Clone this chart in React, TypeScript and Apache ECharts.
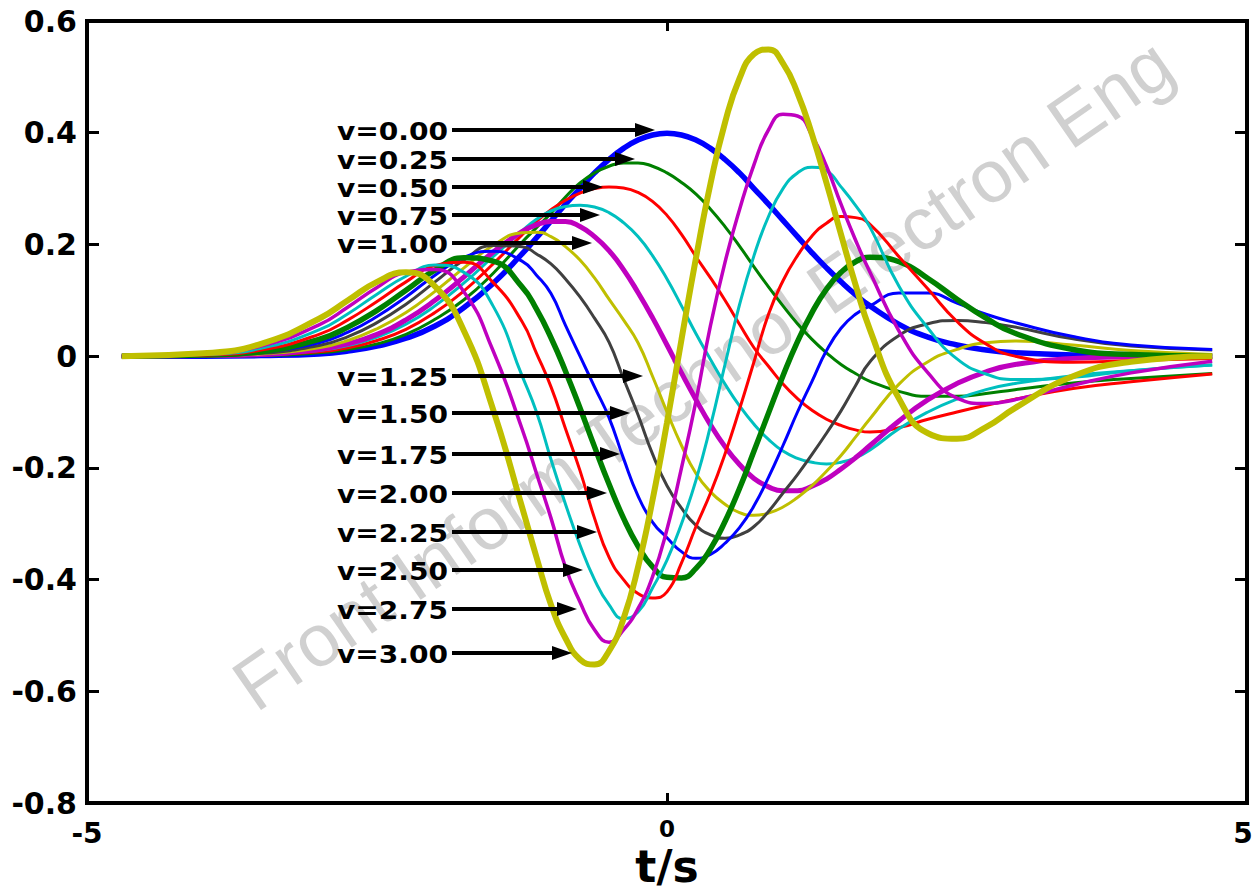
import React, { useEffect, useRef } from "react";
import * as echarts from "echarts";

// time samples (s)
const T = [-4.7, -4, -3.5, -3, -2.75, -2.5, -2.25, -2, -1.75, -1.5, -1.25, -1.125, -1, -0.875, -0.75, -0.625, -0.5, -0.375, -0.25, -0.125, 0, 0.125, 0.25, 0.375, 0.5, 0.625, 0.75, 0.875, 1, 1.125, 1.25, 1.375, 1.5, 1.625, 1.75, 2, 2.25, 2.5, 2.75, 3, 3.5, 4, 4.7];

const V000 = [0, 0, 0.001, 0.004, 0.009, 0.018, 0.032, 0.054, 0.087, 0.13, 0.183, 0.212, 0.242, 0.272, 0.3, 0.328, 0.352, 0.372, 0.387, 0.396, 0.399, 0.396, 0.387, 0.372, 0.352, 0.328, 0.3, 0.272, 0.243, 0.214, 0.185, 0.158, 0.133, 0.11, 0.09, 0.057, 0.034, 0.02, 0.011, 0.006, 0.002, 0.001, 0];
const V025 = [0, 0, 0.001, 0.006, 0.012, 0.022, 0.039, 0.066, 0.101, 0.148, 0.204, 0.23, 0.256, 0.285, 0.31, 0.328, 0.34, 0.346, 0.346, 0.34, 0.328, 0.311, 0.29, 0.263, 0.232, 0.197, 0.16, 0.124, 0.09, 0.058, 0.03, 0.006, -0.015, -0.031, -0.045, -0.063, -0.072, -0.072, -0.067, -0.06, -0.048, -0.04, -0.031];
const V050 = [0, 0, 0.002, 0.008, 0.015, 0.028, 0.048, 0.078, 0.117, 0.165, 0.217, 0.241, 0.262, 0.279, 0.292, 0.3, 0.303, 0.301, 0.293, 0.277, 0.252, 0.218, 0.178, 0.14, 0.1, 0.057, 0.015, -0.018, -0.05, -0.076, -0.097, -0.113, -0.124, -0.132, -0.136, -0.128, -0.113, -0.1, -0.088, -0.077, -0.058, -0.046, -0.032];
const V075 = [0, 0, 0.003, 0.01, 0.019, 0.034, 0.057, 0.09, 0.131, 0.178, 0.224, 0.245, 0.26, 0.268, 0.27, 0.267, 0.257, 0.239, 0.214, 0.18, 0.138, 0.09, 0.04, -0.006, -0.05, -0.089, -0.122, -0.149, -0.17, -0.183, -0.19, -0.193, -0.19, -0.182, -0.168, -0.13, -0.1, -0.077, -0.06, -0.049, -0.035, -0.026, -0.016];
const V100 = [0, 0.001, 0.003, 0.012, 0.022, 0.039, 0.065, 0.1, 0.142, 0.186, 0.223, 0.235, 0.241, 0.241, 0.232, 0.214, 0.189, 0.155, 0.114, 0.069, 0.02, -0.03, -0.078, -0.123, -0.162, -0.194, -0.219, -0.234, -0.241, -0.241, -0.233, -0.22, -0.202, -0.182, -0.16, -0.116, -0.078, -0.049, -0.028, -0.015, -0.004, -0.001, 0];
const V125 = [0, 0.001, 0.004, 0.015, 0.028, 0.049, 0.078, 0.116, 0.158, 0.198, 0.221, 0.222, 0.214, 0.196, 0.172, 0.14, 0.102, 0.065, 0.024, -0.036, -0.1, -0.16, -0.21, -0.243, -0.265, -0.28, -0.285, -0.281, -0.27, -0.253, -0.232, -0.206, -0.178, -0.145, -0.112, -0.05, -0.01, 0.012, 0.024, 0.027, 0.02, 0.01, 0.003];
const V150 = [0, 0.001, 0.005, 0.019, 0.035, 0.06, 0.093, 0.133, 0.172, 0.198, 0.196, 0.183, 0.165, 0.138, 0.106, 0.068, 0.025, -0.04, -0.105, -0.175, -0.232, -0.272, -0.303, -0.32, -0.326, -0.32, -0.305, -0.278, -0.245, -0.212, -0.176, -0.138, -0.098, -0.053, -0.01, 0.037, 0.058, 0.064, 0.06, 0.052, 0.031, 0.018, 0.011];
const V175 = [0, 0.001, 0.007, 0.024, 0.043, 0.071, 0.106, 0.145, 0.177, 0.188, 0.17, 0.145, 0.112, 0.055, 0, -0.055, -0.11, -0.183, -0.25, -0.297, -0.325, -0.35, -0.362, -0.355, -0.335, -0.307, -0.268, -0.217, -0.16, -0.1, -0.045, 0.01, 0.05, 0.075, 0.09, 0.113, 0.113, 0.095, 0.075, 0.06, 0.035, 0.02, 0.012];
const V200 = [0, 0.002, 0.008, 0.03, 0.052, 0.082, 0.118, 0.154, 0.176, 0.17, 0.124, 0.084, 0.033, -0.027, -0.093, -0.162, -0.229, -0.29, -0.34, -0.377, -0.396, -0.397, -0.38, -0.345, -0.296, -0.237, -0.17, -0.102, -0.035, 0.026, 0.078, 0.12, 0.15, 0.169, 0.177, 0.169, 0.139, 0.102, 0.068, 0.041, 0.012, 0.003, 0];
const V225 = [0, 0.002, 0.011, 0.039, 0.065, 0.098, 0.133, 0.162, 0.168, 0.132, 0.062, 0.005, -0.055, -0.13, -0.205, -0.29, -0.36, -0.4, -0.425, -0.433, -0.422, -0.37, -0.305, -0.245, -0.175, -0.095, -0.01, 0.075, 0.135, 0.18, 0.215, 0.238, 0.25, 0.248, 0.236, 0.178, 0.12, 0.062, 0.022, 0, -0.011, -0.008, -0.004];
const V250 = [0, 0.003, 0.014, 0.047, 0.076, 0.111, 0.143, 0.163, 0.15, 0.09, -0.035, -0.1, -0.185, -0.265, -0.338, -0.4, -0.445, -0.47, -0.458, -0.415, -0.365, -0.3, -0.222, -0.125, -0.015, 0.092, 0.18, 0.25, 0.3, 0.328, 0.338, 0.332, 0.303, 0.27, 0.231, 0.125, 0.05, -0.005, -0.032, -0.042, -0.038, -0.026, -0.016];
const V275 = [0, 0.004, 0.018, 0.056, 0.088, 0.123, 0.15, 0.155, 0.115, 0.01, -0.13, -0.21, -0.29, -0.378, -0.44, -0.49, -0.512, -0.49, -0.452, -0.395, -0.31, -0.2, -0.08, 0.055, 0.168, 0.262, 0.343, 0.405, 0.433, 0.43, 0.395, 0.34, 0.272, 0.208, 0.15, 0.045, -0.03, -0.075, -0.085, -0.078, -0.052, -0.03, -0.009];
const V300 = [0, 0.005, 0.022, 0.067, 0.1, 0.133, 0.15, 0.125, 0.045, -0.095, -0.27, -0.36, -0.445, -0.505, -0.543, -0.552, -0.528, -0.47, -0.378, -0.258, -0.119, 0.03, 0.176, 0.309, 0.418, 0.497, 0.541, 0.549, 0.524, 0.471, 0.397, 0.31, 0.218, 0.128, 0.047, -0.076, -0.138, -0.148, -0.127, -0.093, -0.036, -0.01, 0];

const SERIES_NAMES = ["v=0.00", "v=0.25", "v=0.50", "v=0.75", "v=1.00", "v=1.25", "v=1.50", "v=1.75", "v=2.00", "v=2.25", "v=2.50", "v=2.75", "v=3.00"];
const SERIES_VALUES = [V000, V025, V050, V075, V100, V125, V150, V175, V200, V225, V250, V275, V300];

const X_TICKS = [-5, 0, 5];
const Y_TICKS = [0.6, 0.4, 0.2, 0, -0.2, -0.4, -0.6, -0.8];

// styles (MATLAB colour order)
const COLORS = ["#0000ff", "#008000", "#ff0000", "#00bfbf", "#bf00bf", "#bfbf00", "#404040", "#0000ff", "#008000", "#ff0000", "#00bfbf", "#bf00bf", "#bfbf00"];
const WIDTHS = [5.5, 3, 3, 3, 5, 3, 3, 3, 5.5, 3, 3, 3.5, 6];

// annotation layout (pixels)
const ANN_Y = [130, 159, 187, 215, 243, 376, 413, 454, 493, 532, 570, 609, 653];
const ANN_TIP = [655, 635, 603, 600, 592, 643, 630, 620, 607, 597, 583, 577, 572];
const ANN_TEXT_RIGHT = 448;
const ANN_LINE_START = 452;

const FONT = '"DejaVu Sans", "Liberation Sans", Arial, sans-serif';

export default function App() {
  const ref = useRef<HTMLDivElement>(null);
  useEffect(() => {
    if (!ref.current) return;
    const chart = echarts.init(ref.current, undefined, { renderer: "svg" });

    const series: any[] = SERIES_VALUES.map((vals, i) => ({
      name: SERIES_NAMES[i],
      type: "line",
      data: T.map((t, k) => [t, vals[k]]),
      showSymbol: false,
      smooth: 0.5,
      lineStyle: { color: COLORS[i], width: WIDTHS[i] },
      itemStyle: { color: COLORS[i] },
      z: 2 + i * 0.01,
      silent: true,
    }));

    const graphic: any[] = [];
    graphic.push({
      type: "text",
      x: 703,
      y: 374,
      rotation: 0.604,
      z: 0,
      silent: true,
      style: {
        text: "Front Inform Technol Electron Eng",
        font: '74px "Liberation Sans", Arial, sans-serif',
        fill: "rgba(150,150,150,0.45)",
        align: "center",
        verticalAlign: "middle",
        textAlign: "center",
        textVerticalAlign: "middle",
      },
    });
    SERIES_NAMES.forEach((name, i) => {
      const y = ANN_Y[i];
      const tip = ANN_TIP[i];
      graphic.push({
        type: "text",
        x: ANN_TEXT_RIGHT,
        y: y + 2,
        scaleX: 1.17,
        z: 100,
        style: {
          text: name,
          font: `bold 24px ${FONT}`,
          fill: "#000",
          align: "right",
          verticalAlign: "middle",
          textAlign: "right",
          textVerticalAlign: "middle",
        },
      });
      graphic.push({
        type: "line",
        z: 100,
        shape: { x1: ANN_LINE_START, y1: y, x2: tip - 16, y2: y },
        style: { stroke: "#000", lineWidth: 4 },
      });
      graphic.push({
        type: "polygon",
        z: 100,
        shape: { points: [[tip, y], [tip - 20, y - 7], [tip - 20, y + 7]] },
        style: { fill: "#000" },
      });
    });

    const axisFont = { fontFamily: FONT, fontWeight: "bold", color: "#000" };
    const tick = { show: true, inside: true, lineStyle: { color: "#000", width: 3 } };

    chart.setOption({
      animation: false,
      backgroundColor: "#ffffff",
      grid: {
        left: 87, right: 8, top: 21, bottom: 87,
        containLabel: false,
        outerBoundsMode: "none",
        show: true, borderColor: "#000", borderWidth: 4, backgroundColor: "transparent",
      },
      xAxis: [
        {
          type: "value",
          min: X_TICKS[0],
          max: X_TICKS[X_TICKS.length - 1],
          interval: 5,
          position: "bottom",
          name: "t/s",
          nameLocation: "middle",
          nameGap: 44,
          nameMoveOverlap: false,
          nameTextStyle: { fontFamily: FONT, fontWeight: "bold", fontSize: 44, lineHeight: 38, color: "#000" },
          axisLine: { show: false, onZero: false },
          axisTick: { ...tick, length: 10 },
          splitLine: { show: false },
          axisLabel: {
            ...axisFont,
            margin: 16,
            showMinLabel: true,
            showMaxLabel: true,
            formatter: (v: number) => (v === 0 ? "{s|0}" : v > 0 ? `{r|${v}}` : `{b|${v}}`),
            rich: {
              s: { fontFamily: FONT, fontWeight: "bold", fontSize: 23, lineHeight: 20, color: "#000" },
              b: { fontFamily: FONT, fontWeight: "bold", fontSize: 28, color: "#000" },
              r: { fontFamily: FONT, fontWeight: "bold", fontSize: 28, color: "#000", padding: [0, 8, 0, 0] },
            },
          },
        },
        {
          type: "value",
          min: X_TICKS[0],
          max: X_TICKS[X_TICKS.length - 1],
          interval: 5,
          position: "top",
          axisLine: { show: false, onZero: false },
          axisTick: { ...tick, length: 10 },
          axisLabel: { show: false },
          splitLine: { show: false },
        },
      ],
      yAxis: [
        {
          type: "value",
          min: Y_TICKS[Y_TICKS.length - 1],
          max: Y_TICKS[0],
          interval: 0.2,
          position: "left",
          axisLine: { show: false, onZero: false },
          axisTick: { ...tick, length: 12 },
          splitLine: { show: false },
          axisLabel: {
            ...axisFont,
            fontSize: 30,
            margin: 10,
            showMinLabel: true,
            showMaxLabel: true,
            formatter: (v: number) => String(Math.round(v * 10) / 10),
          },
        },
        {
          type: "value",
          min: Y_TICKS[Y_TICKS.length - 1],
          max: Y_TICKS[0],
          interval: 0.2,
          position: "right",
          axisLine: { show: false, onZero: false },
          axisTick: { ...tick, length: 12 },
          axisLabel: { show: false },
          splitLine: { show: false },
        },
      ],
      series,
      graphic,
    });

    return () => chart.dispose();
  }, []);

  return (
    <div
      ref={ref}
      style={{ position: "fixed", left: 0, top: 0, width: 1255, height: 890, background: "#fff" }}
    />
  );
}
